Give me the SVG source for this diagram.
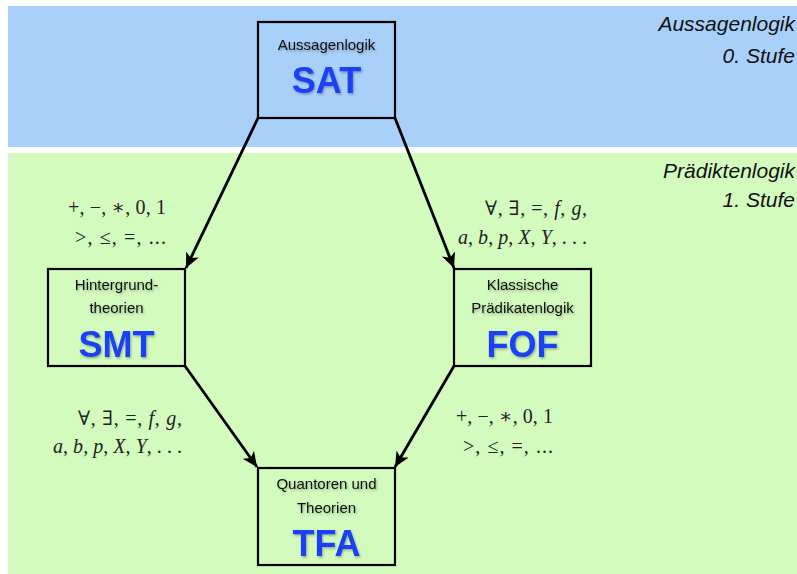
<svg xmlns="http://www.w3.org/2000/svg" width="797" height="574" viewBox="0 0 797 574">
<style>
.box{fill:none;stroke:#000;stroke-width:2.2}
.lbl{font-family:"Liberation Sans","DejaVu Sans",sans-serif;font-size:15px;fill:#111;text-anchor:middle}
.big{font-family:"Liberation Sans","DejaVu Sans",sans-serif;font-size:36px;font-weight:bold;fill:#1a40f5;text-anchor:middle}
.side{font-family:"Liberation Sans","DejaVu Sans",sans-serif;font-size:21px;font-style:italic;fill:#111;text-anchor:end}
.math{font-family:"Liberation Serif","DejaVu Serif",serif;font-size:20px;fill:#222}
.it{font-style:italic}
.edge{stroke:#000;stroke-width:2.8;fill:none;marker-end:url(#arr)}
</style>
<defs>
<marker id="arr" markerUnits="userSpaceOnUse" markerWidth="16" markerHeight="14" refX="15" refY="7" orient="auto">
<path d="M0,0 L15,7 L0,14 L4,7 Z" fill="#000"/>
</marker>
<filter id="sh" x="-10%" y="-10%" width="130%" height="140%">
<feDropShadow dx="1" dy="1.5" stdDeviation="1.2" flood-color="#000" flood-opacity="0.3"/>
</filter>
</defs>
<rect x="8" y="6" width="789" height="141" fill="#a8d0f9"/>
<rect x="8" y="153" width="789" height="421" fill="#d3fbbd"/>
<g id="bands-labels">
<text class="side" x="795" y="31">Aussagenlogik</text>
<text class="side" x="795" y="63">0. Stufe</text>
<text class="side" x="795" y="178">Prädiktenlogik</text>
<text class="side" x="795" y="207">1. Stufe</text>
</g>
<g id="connectors">
<line class="edge" x1="258" y1="118" x2="186" y2="268"/>
<line class="edge" x1="395" y1="118" x2="454" y2="268"/>
<line class="edge" x1="185" y1="366" x2="257" y2="467"/>
<line class="edge" x1="454" y1="366" x2="395" y2="467"/>
<g class="math">
<text x="68" y="214" textLength="98">+, −, ∗, 0, 1</text>
<text x="75" y="244" textLength="91">&gt;, ≤, =, ...</text>
<text x="485" y="215" textLength="102">∀, ∃, =, <tspan class="it">f</tspan>, <tspan class="it">g</tspan>,</text>
<text x="458" y="244" textLength="129"><tspan class="it">a</tspan>, <tspan class="it">b</tspan>, <tspan class="it">p</tspan>, <tspan class="it">X</tspan>, <tspan class="it">Y</tspan>, . . .</text>
<text x="78" y="425" textLength="104">∀, ∃, =, <tspan class="it">f</tspan>, <tspan class="it">g</tspan>,</text>
<text x="53" y="453" textLength="129"><tspan class="it">a</tspan>, <tspan class="it">b</tspan>, <tspan class="it">p</tspan>, <tspan class="it">X</tspan>, <tspan class="it">Y</tspan>, . . .</text>
<text x="456" y="423" textLength="97">+, −, ∗, 0, 1</text>
<text x="463" y="453" textLength="90">&gt;, ≤, =, ...</text>
</g>
</g>
<g id="SAT">
<rect class="box" x="258" y="22" width="137" height="96"/>
<text class="lbl" x="326.5" y="50" filter="url(#sh)">Aussagenlogik</text>
<text class="big" x="326.5" y="93" filter="url(#sh)">SAT</text>
</g>
<g id="SMT">
<rect class="box" x="48" y="269" width="137" height="97"/>
<text class="lbl" x="116.5" y="290" filter="url(#sh)">Hintergrund-</text>
<text class="lbl" x="116.5" y="313" filter="url(#sh)">theorien</text>
<text class="big" x="116.5" y="357" filter="url(#sh)">SMT</text>
</g>
<g id="FOF">
<rect class="box" x="454" y="269" width="137" height="97"/>
<text class="lbl" x="522.5" y="290" filter="url(#sh)">Klassische</text>
<text class="lbl" x="522.5" y="313" filter="url(#sh)">Prädikatenlogik</text>
<text class="big" x="522.5" y="357" filter="url(#sh)">FOF</text>
</g>
<g id="TFA">
<rect class="box" x="258" y="468" width="137" height="97"/>
<text class="lbl" x="326.5" y="489" filter="url(#sh)">Quantoren und</text>
<text class="lbl" x="326.5" y="513" filter="url(#sh)">Theorien</text>
<text class="big" x="326.5" y="556" filter="url(#sh)">TFA</text>
</g>
</svg>
